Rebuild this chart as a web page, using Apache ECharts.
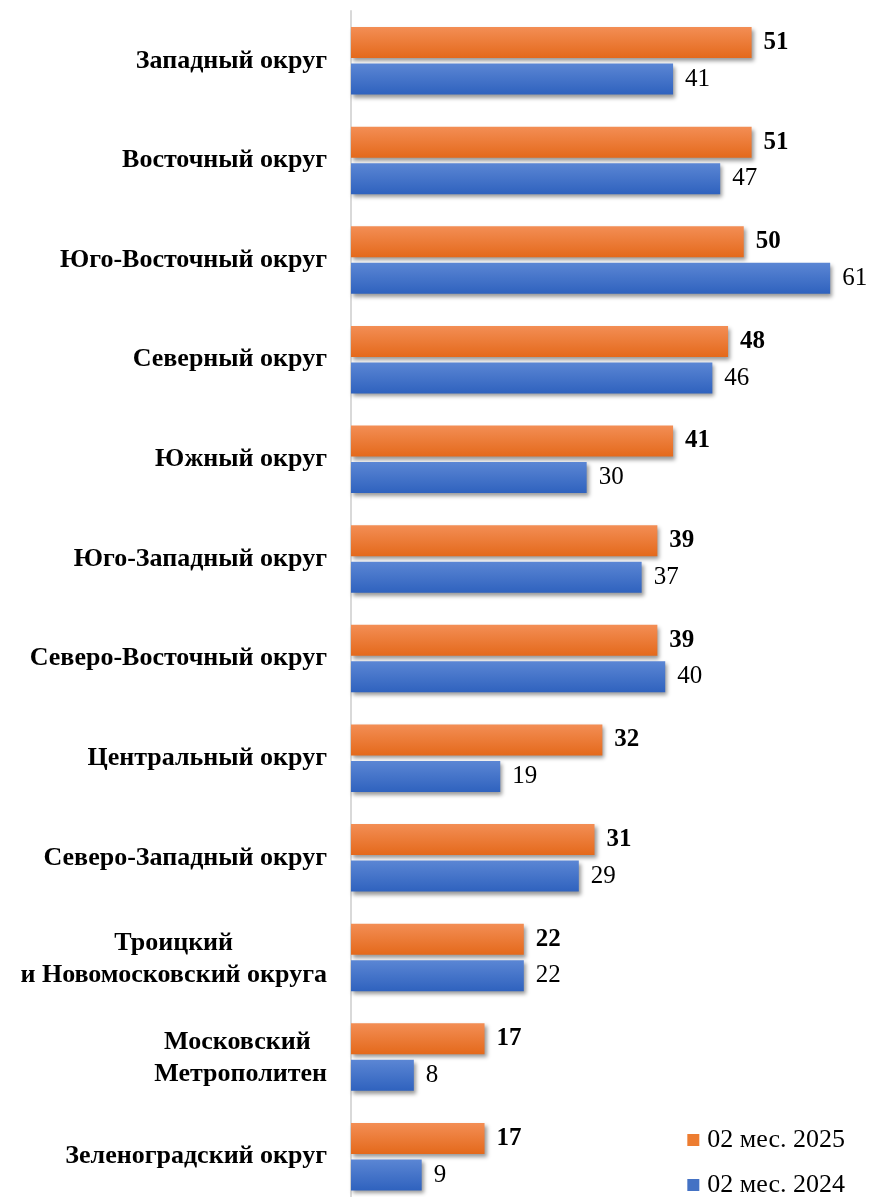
<!DOCTYPE html>
<html>
<head>
<meta charset="utf-8">
<script src="https://cdn.jsdelivr.net/npm/echarts@6/dist/echarts.min.js"></script>
<style>
  html, body { margin: 0; padding: 0; background: #fff; }
  #chart { width: 871px; height: 1197px; }
</style>
</head>
<body>
<div id="chart"></div>
<script>
// округа сверху вниз
const districts = [
  'Западный округ',
  'Восточный округ',
  'Юго-Восточный округ',
  'Северный округ',
  'Южный округ',
  'Юго-Западный округ',
  'Северо-Восточный округ',
  'Центральный округ',
  'Северо-Западный округ',
  'Троицкий\nи Новомосковский округа',
  'Московский \nМетрополитен',
  'Зеленоградский округ'
];
const values2025 = [51, 51, 50, 48, 41, 39, 39, 32, 31, 22, 17, 17];
const values2024 = [41, 47, 61, 46, 30, 37, 40, 19, 29, 22, 8, 9];
const seriesNames = ['02 мес. 2025', '02 мес. 2024'];

const serif = '"Liberation Serif", "Times New Roman", serif';

const myChart = echarts.init(document.getElementById('chart'));

const grad = (top, bottom) => new echarts.graphic.LinearGradient(0, 0, 0, 1, [
  { offset: 0, color: top },
  { offset: 1, color: bottom }
]);

const option = {
  animation: false,
  grid: {
    left: 351,
    top: 11,
    width: 510.6,
    height: 1195.5,
    outerBoundsMode: 'none'
  },
  legend: {
    orient: 'vertical',
    right: 26,
    bottom: -1,
    padding: 0,
    itemWidth: 12,
    itemHeight: 12,
    itemGap: 19,
    icon: 'rect',
    textStyle: { fontFamily: serif, fontSize: 26, color: '#000', padding: [0, 0, 0, 3] },
    data: [
      { name: seriesNames[0], itemStyle: { color: '#ED7D31' } },
      { name: seriesNames[1], itemStyle: { color: '#4472C4' } }
    ]
  },
  xAxis: {
    type: 'value',
    min: 0,
    max: 65,
    show: false
  },
  yAxis: {
    type: 'category',
    inverse: true,
    data: districts,
    axisLine: { show: true, lineStyle: { color: '#d9d9d9', width: 2 } },
    axisTick: { show: false },
    axisLabel: {
      margin: 24,
      fontFamily: serif,
      fontWeight: 'bold',
      fontSize: 26,
      color: '#000',
      formatter: function (v) {
        // многострочные подписи центрируем построчно
        if (v.indexOf('\n') < 0) return v;
        return v.split('\n').map(s => '{c|' + s + '}').join('\n');
      },
      rich: {
        c: {
          align: 'center',
          fontFamily: serif,
          fontWeight: 'bold',
          fontSize: 26,
          lineHeight: 32,
          padding: [3, 0, 0, 0],
          color: '#000'
        }
      }
    }
  },
  series: [
    {
      name: seriesNames[0],
      type: 'bar',
      data: values2025,
      barWidth: 31,
      barGap: '18%',
      itemStyle: {
        color: grad('#F38E55', '#E4691B'),
        shadowColor: 'rgba(0,0,0,0.4)',
        shadowBlur: 4,
        shadowOffsetX: 2,
        shadowOffsetY: 3
      },
      label: {
        show: true,
        position: 'right',
        distance: 12,
        fontFamily: serif,
        fontWeight: 'bold',
        fontSize: 25,
        color: '#000'
      }
    },
    {
      name: seriesNames[1],
      type: 'bar',
      data: values2024,
      barWidth: 31,
      itemStyle: {
        color: grad('#5B86D4', '#2F62BE'),
        shadowColor: 'rgba(0,0,0,0.4)',
        shadowBlur: 4,
        shadowOffsetX: 2,
        shadowOffsetY: 3
      },
      label: {
        show: true,
        position: 'right',
        distance: 12,
        fontFamily: serif,
        fontSize: 25,
        color: '#000'
      }
    }
  ]
};
myChart.setOption(option);
</script>
</body>
</html>
